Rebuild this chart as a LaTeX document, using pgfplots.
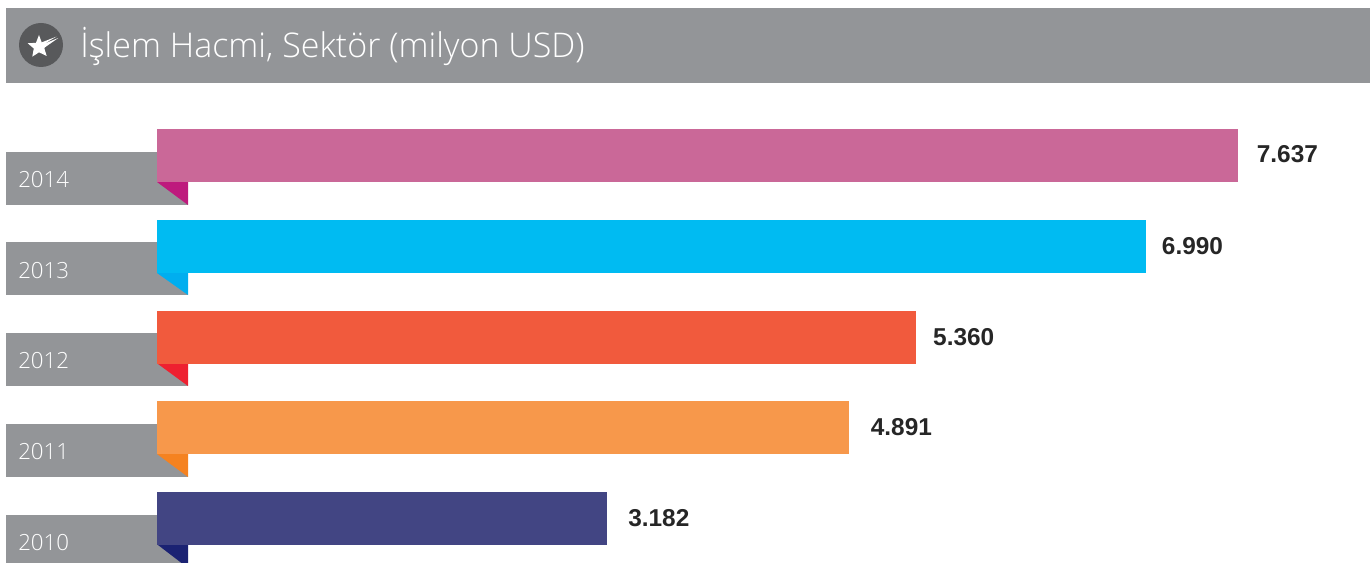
\documentclass[border=0pt]{standalone}
\usepackage{pgfplots}
\pgfplotsset{compat=1.18}
\usepackage{fontspec}
\setmainfont{Liberation Sans}
\newfontfamily\lightfont{Open Sans Light}
\definecolor{tabgrey}{HTML}{939598}
\definecolor{icon}{HTML}{58595B}
\definecolor{c14}{HTML}{CA6898}\definecolor{f14}{HTML}{BE1A7D}
\definecolor{c13}{HTML}{00BBF2}\definecolor{f13}{HTML}{00AEEF}
\definecolor{c12}{HTML}{F15A3D}\definecolor{f12}{HTML}{EE2030}
\definecolor{c11}{HTML}{F7984B}\definecolor{f11}{HTML}{F58220}
\definecolor{c10}{HTML}{424583}\definecolor{f10}{HTML}{1B2273}
\begin{document}
\begin{tikzpicture}
\begin{scope}[shift={(0,422.25pt)},x=.75pt,y=-.75pt]
  \fill[tabgrey] (6,8) rectangle (1370,83.5);
  \fill[icon] (41,45) circle (22);
  \fill[white] (39,35) -- (41.7,42.4) -- (56.5,36.6) -- (44.3,43.8) -- (58.3,38) -- (45,47.3) -- (44.3,48.3) -- (46.7,56) -- (39,52.3) -- (32.3,56.7) -- (33.8,48.5) -- (27.7,43.3) -- (36,42.8) -- cycle;
  \node[anchor=base west,inner sep=0pt,text=white,font=\lightfont\fontsize{25.5pt}{28pt}\selectfont] at (80,58) {İşlem Hacmi, Sektör (milyon USD)};
  \fill[tabgrey] (6,152) rectangle (188,205);
  \fill[tabgrey] (6,242) rectangle (188,295);
  \fill[tabgrey] (6,333) rectangle (188,386);
  \fill[tabgrey] (6,424) rectangle (188,477);
  \fill[tabgrey] (6,515) rectangle (188,563);
  \fill[f14] (157,182) -- (188,182) -- (188,205) -- cycle;
  \fill[f13] (157,273) -- (188,273) -- (188,295) -- cycle;
  \fill[f12] (158,364) -- (188,364) -- (188,386) -- cycle;
  \fill[f11] (157,454) -- (188,454) -- (188,477) -- cycle;
  \fill[f10] (158,545) -- (188,545) -- (188,563) -- (181.5,563) -- cycle;
\end{scope}
\begin{axis}[
  at={(0,0)},anchor=south west,
  scale only axis,width=1027.5pt,height=422.25pt,
  xmin=-1109,xmax=8569.6,ymin=-0.4904,ymax=5.7135,
  xbar,bar width=0.584,bar shift=0pt,
  axis line style={draw=none},tick style={draw=none},
  major tick length=0pt,
  xtick=\empty,
  ytick={0,1,2,3,4},yticklabels={2010,2011,2012,2013,2014},
  yticklabel style={anchor=west,text=white,font=\lightfont\fontsize{16.7pt}{20pt}\selectfont,xshift=13.5pt,yshift=-18pt,inner sep=0pt},
  clip=false,
  point meta=x,
  nodes near coords={\pgfmathprintnumber{\pgfplotspointmeta}},
  /pgf/number format/.cd,fixed,1000 sep={.},assume math mode=true,
  /pgfplots/every node near coord/.append style={font=\bfseries\fontsize{18.3pt}{20pt}\selectfont,text=black!85,anchor=west,inner sep=0pt},
]
\addplot[fill=c14,draw=none,nodes near coords style={xshift=14pt,yshift=.7pt}] coordinates {(7637,4)};
\addplot[fill=c13,draw=none,nodes near coords style={xshift=11.5pt}] coordinates {(6990,3)};
\addplot[fill=c12,draw=none,nodes near coords style={xshift=13pt}] coordinates {(5360,1.995)};
\addplot[fill=c11,draw=none,nodes near coords style={xshift=16pt,yshift=.7pt}] coordinates {(4891,1)};
\addplot[fill=c10,draw=none,nodes near coords style={xshift=15.5pt}] coordinates {(3182,0)};
\end{axis}
\end{tikzpicture}
\end{document}
